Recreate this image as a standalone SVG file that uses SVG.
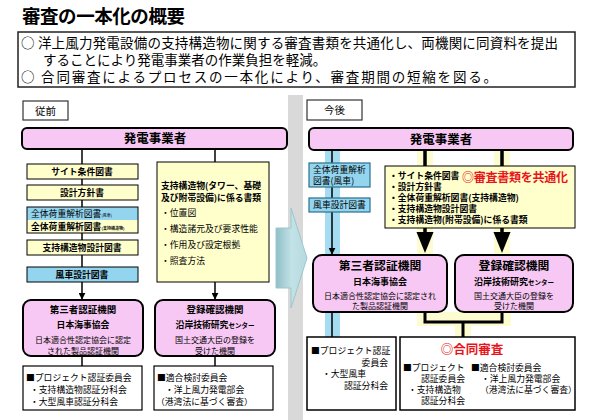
<svg xmlns="http://www.w3.org/2000/svg" width="594" height="420" viewBox="0 0 594 420">
<defs>
<style>
text{font-family:"Noto Sans CJK JP","Noto Sans CJK SC",sans-serif;fill:#000}
.b{font-weight:bold}
.c{text-anchor:middle}
.t10{font-size:8.8px}
.t9{font-size:8px}
.yel{fill:#ffffcc;stroke:#000;stroke-width:1}
.blu{fill:#93d5ef;stroke:#000;stroke-width:1}
.blu2{fill:#93d5ef;stroke:#2a6f8c;stroke-width:1.2}
.pink{fill:#f8c8f4;stroke:#000;stroke-width:2}
.wht{fill:#fff;stroke:#000;stroke-width:1.2}
.ln{stroke:#000;stroke-width:1.5;fill:none}
.thk{stroke:#000;stroke-width:3.5;fill:none}
.red{fill:#e8141b;font-weight:bold}
</style>
<marker id="ah" viewBox="0 0 10 10" refX="9" refY="5" markerWidth="7" markerHeight="7" orient="auto" markerUnits="userSpaceOnUse">
<path d="M0,0 L10,5 L0,10 z" fill="#000"/>
</marker>
<linearGradient id="ag" x1="0" y1="0" x2="1" y2="0">
<stop offset="0" stop-color="#8fbfc6"/>
<stop offset="0.5" stop-color="#c2e2e6"/>
<stop offset="1" stop-color="#b6dadf"/>
</linearGradient>
</defs>
<rect width="594" height="420" fill="#fff"/>

<g id="title">
<text x="22" y="23" class="b" font-size="18.5" textLength="163">審査の一本化の概要</text>
</g>
<g id="summary">
<rect x="18" y="32" width="557" height="55" fill="#fff" stroke="#222" stroke-width="1.5"/>
<text x="21" y="48" font-size="13.5" textLength="537">○ 洋上風力発電設備の支持構造物に関する審査書類を共通化し、両機関に同資料を提出</text>
<text x="43" y="65" font-size="13.5">することにより発電事業者の作業負担を軽減。</text>
<text x="21" y="82" font-size="13.5" textLength="476">○ 合同審査によるプロセスの一本化により、審査期間の短縮を図る。</text>
</g>

<g id="divider">
<rect x="288" y="95" width="15" height="325" fill="#d9d9d9"/>
<polygon points="276,228 291,228 291,208 307,258 291,308 291,288 276,288" fill="url(#ag)" stroke="#9cc6cc" stroke-width="1"/>
</g>

<!-- ===== LEFT: 従前 ===== -->
<g id="connectors-left">
<line class="ln" x1="82" y1="149" x2="82" y2="299" marker-end="url(#ah)"/>
<line class="ln" x1="215" y1="149" x2="215" y2="162"/>
<line class="ln" x1="215" y1="282" x2="215" y2="299" marker-end="url(#ah)"/>
<line class="ln" x1="82" y1="356" x2="82" y2="366"/>
<line class="ln" x1="215" y1="356" x2="215" y2="366"/>
</g>
<g id="label-before">
<rect x="23" y="101" width="45" height="19" fill="#fff" stroke="#333" stroke-width="1.2"/>
<text x="45.5" y="114.5" class="c" font-size="10.5">従前</text>
</g>
<g id="operator-left">
<rect x="22" y="128" width="265" height="21" rx="5" class="pink"/>
<text x="155" y="143" class="b c" font-size="12.5">発電事業者</text>
</g>
<g id="site-doc-left">
<rect x="27" y="164" width="111" height="15" class="yel"/>
<text x="82" y="174.8" class="b c t10">サイト条件図書</text>
</g>
<g id="design-policy-left">
<rect x="27" y="185" width="111" height="15" class="yel"/>
<text x="82" y="195.8" class="b c t10">設計方針書</text>
</g>
<g id="load-analysis-left">
<rect x="27" y="207" width="111" height="13" fill="#93d5ef"/>
<rect x="27" y="220" width="111" height="13" fill="#ffffcc"/>
<rect x="27" y="207" width="111" height="26" fill="none" stroke="#000" stroke-width="1"/>
<text x="31" y="217" class="t10">全体荷重解析図書<tspan font-size="4">(風車)</tspan></text>
<text x="31" y="230" class="b t10">全体荷重解析図書<tspan font-size="4">(支持構造物)</tspan></text>
</g>
<g id="support-design-left">
<rect x="27" y="240" width="111" height="15" class="yel"/>
<text x="82" y="250.8" class="b c t10">支持構造物設計図書</text>
</g>
<g id="turbine-design-left">
<rect x="27" y="267" width="111" height="15" class="blu"/>
<text x="82" y="277.8" class="b c t10">風車設計図書</text>
</g>
<g id="structure-docs-left">
<rect x="157" y="162" width="112" height="120" class="yel"/>
<text x="161" y="189" class="b t10">支持構造物(タワー、基礎</text>
<text x="161" y="200.5" class="b t10">及び附帯設備)に係る書類</text>
<text x="161" y="216" class="t10">・位置図</text>
<text x="161" y="232" class="t10">・構造諸元及び要求性能</text>
<text x="161" y="248" class="t10">・作用及び設定根拠</text>
<text x="161" y="264" class="t10">・照査方法</text>
</g>
<g id="third-party-left">
<rect x="23" y="300" width="120" height="56" rx="8" class="pink"/>
<text x="83" y="312.5" class="b c" font-size="9.5">第三者認証機関</text>
<text x="83" y="328" class="b c t10">日本海事協会</text>
<text x="83" y="343" class="c t9">日本適合性認定協会に認定</text>
<text x="83" y="353.5" class="c t9">された製品認証機関</text>
</g>
<g id="registered-left">
<rect x="155" y="300" width="120" height="56" rx="8" class="pink"/>
<text x="215" y="312.5" class="b c" font-size="9.5">登録確認機関</text>
<text x="215" y="328" class="b c t10">沿岸技術研究<tspan font-size="6.5">センター</tspan></text>
<text x="215" y="343" class="c t9">国土交通大臣の登録を</text>
<text x="215" y="353.5" class="c t9">受けた機関</text>
</g>
<g id="committee-left-1">
<rect x="23" y="366" width="119" height="44" class="wht"/>
<text x="26" y="380.5" class="t10">■プロジェクト認証委員会</text>
<text x="30" y="392.5" class="t10">・支持構造物認証分科会</text>
<text x="30" y="404.5" class="t10">・大型風車認証分科会</text>
</g>
<g id="committee-left-2">
<rect x="154" y="366" width="119" height="44" class="wht"/>
<text x="157" y="380.5" class="t10">■適合検討委員会</text>
<text x="165" y="392.5" class="t10">・洋上風力発電部会</text>
<text x="156" y="404.5" class="t10">（港湾法に基づく審査）</text>
</g>

<!-- ===== RIGHT: 今後 ===== -->
<g id="connectors-right">
<rect x="325" y="150" width="15" height="187" fill="#a6dcf1"/>
<path d="M425 150V255M502 150V255" stroke="#fdfbd0" stroke-width="16" fill="none"/>
<rect x="417" y="312" width="94" height="14" fill="#fdfbd0"/>
<rect x="455" y="312" width="16" height="25" fill="#fdfbd0"/>
<line class="ln" x1="332" y1="150" x2="332" y2="254" marker-end="url(#ah)"/>
<line class="ln" x1="332" y1="312" x2="332" y2="337"/>
<path class="thk" d="M425 150V167M502 150V167"/>
<path class="thk" d="M425 228V234M502 228V234"/>
<polygon points="416.5,232 433.5,232 425,253" fill="#000"/>
<polygon points="493.5,232 510.5,232 502,253" fill="#000"/>
<path d="M425 312V322H502V312M463 322V337" stroke="#000" stroke-width="3" fill="none"/>
</g>
<g id="label-after">
<rect x="307" y="100" width="55" height="20" fill="#fff" stroke="#333" stroke-width="1.2"/>
<text x="334.5" y="114" class="c" font-size="10.5">今後</text>
</g>
<g id="operator-right">
<rect x="309" y="128" width="264" height="22" rx="5" class="pink"/>
<text x="441" y="143.5" class="b c" font-size="12.5">発電事業者</text>
</g>
<g id="load-analysis-right">
<rect x="309" y="163" width="61" height="24" class="blu2"/>
<text x="313" y="173" class="t10">全体荷重解析</text>
<text x="313" y="184" class="t10">図書(風車)</text>
</g>
<g id="turbine-design-right">
<rect x="309" y="198" width="61" height="14" class="blu2"/>
<text x="339.5" y="208.3" class="c t10">風車設計図書</text>
</g>
<g id="common-docs">
<rect x="385" y="166" width="190" height="62" class="yel"/>
<text x="389" y="178.5" class="b t10">・サイト条件図書</text>
<text x="389" y="189.5" class="b t10">・設計方針書</text>
<text x="389" y="200.5" class="b t10">・全体荷重解析図書(支持構造物)</text>
<text x="389" y="211.5" class="b t10">・支持構造物設計図書</text>
<text x="389" y="222.5" class="b t10">・支持構造物(附帯設備)に係る書類</text>
<text x="462" y="182" class="red" font-size="12" textLength="106">◎審査書類を共通化</text>
</g>
<g id="third-party-right">
<rect x="313" y="255" width="134" height="57" rx="9" class="pink"/>
<text x="380" y="269.5" class="b c" font-size="11.8">第三者認証機関</text>
<text x="380" y="285" class="b c" font-size="9">日本海事協会</text>
<text x="380" y="299" class="c t9">日本適合性認定協会に認定され</text>
<text x="380" y="308.5" class="c t9">た製品認証機関</text>
</g>
<g id="registered-right">
<rect x="455" y="255" width="118" height="57" rx="9" class="pink"/>
<text x="514" y="269.5" class="b c" font-size="11.8">登録確認機関</text>
<text x="514" y="285" class="b c" font-size="9">沿岸技術研究<tspan font-size="6.5">センター</tspan></text>
<text x="514" y="299" class="c t9">国土交通大臣の登録を</text>
<text x="514" y="308.5" class="c t9">受けた機関</text>
</g>
<g id="committee-right-1">
<rect x="307" y="337" width="89" height="73" fill="#fff" stroke="#000" stroke-width="1.5"/>
<text x="311" y="354" class="t10">■プロジェクト認証</text>
<text x="388" y="365.5" class="t10" text-anchor="end">委員会</text>
<text x="322" y="377" class="t10">・大型風車</text>
<text x="388" y="388.5" class="t10" text-anchor="end">認証分科会</text>
</g>
<g id="joint-review">
<rect x="400" y="337" width="175" height="73" fill="#fff" stroke="#000" stroke-width="1.5"/>
<text x="472" y="354" class="red c" font-size="12.5">◎合同審査</text>
<text x="403" y="371" class="t10">■プロジェクト</text>
<text x="421" y="382" class="t10">認証委員会</text>
<text x="408" y="393" class="t10">・支持構造物</text>
<text x="421" y="404" class="t10">認証分科会</text>
<text x="471" y="371" class="t10">■適合検討委員会</text>
<text x="481" y="382" class="t10">・洋上風力発電部会</text>
<text x="480" y="393" class="t10">（港湾法に基づく審査）</text>
</g>
</svg>
